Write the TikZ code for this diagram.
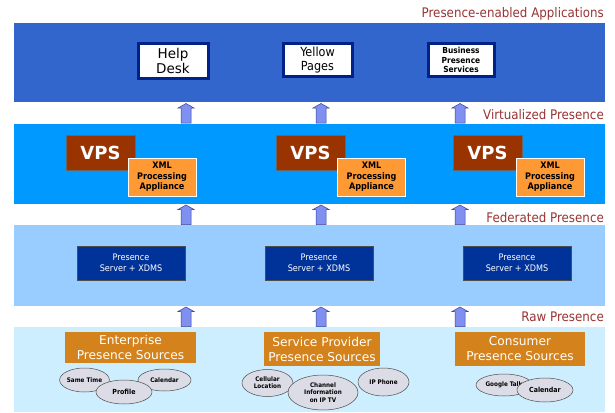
\documentclass[tikz,border=0pt]{standalone}
\usepackage{fontspec}
\setmainfont{DejaVu Sans}
\newfontfamily\condfont{DejaVu Sans Condensed}
\usetikzlibrary{shapes.geometric}

\definecolor{appband}{HTML}{3366CC}
\definecolor{virtband}{HTML}{0099FF}
\definecolor{fedband}{HTML}{99CCFF}
\definecolor{rawband}{HTML}{CCEEFF}
\definecolor{layertext}{HTML}{993333}
\definecolor{appframe}{HTML}{002288}
\definecolor{vpsred}{HTML}{993300}
\definecolor{xmlorange}{HTML}{FF9933}
\definecolor{serverblue}{HTML}{003399}
\definecolor{sourceorange}{HTML}{D4821C}
\definecolor{arrowfill}{HTML}{8090F0}
\definecolor{arrowline}{HTML}{334499}
\definecolor{bubblefill}{HTML}{DCDCE6}

\tikzset{
  layerlabel/.style={anchor=base east, text=layertext, font=\condfont\fontsize{13.2}{13}\selectfont, inner sep=0},
  appbox/.style={draw=appframe, line width=3pt, fill=white, align=center, inner sep=0, text=black},
  vpsbox/.style={fill=vpsred, draw=black!60, line width=0.4pt, text=white, inner sep=0,
    font=\bfseries\fontsize{18}{18}\selectfont},
  xmlbox/.style={fill=xmlorange, draw=white, line width=0.6pt, text=black, align=center, inner sep=0,
    font=\condfont\bfseries\fontsize{9}{10.5}\selectfont},
  serverbox/.style={fill=serverblue, draw=black!70, line width=0.5pt, text=white, align=center, inner sep=0,
    font=\condfont\fontsize{9}{11.5}\selectfont},
  sourcebox/.style={fill=sourceorange, text=white, align=center, inner sep=0,
    font=\fontsize{12.2}{15}\selectfont},
  bubble/.style={ellipse, fill=bubblefill, draw=black!70, line width=0.5pt, inner sep=0, align=center,
    font=\condfont\bfseries\fontsize{6.3}{7.2}\selectfont},
  blockarrow/.style={fill=arrowfill, draw=arrowline, line width=0.5pt, line join=miter},
}

% upward block arrow standing on the named coordinate #1
\newcommand\upblock[1]{%
  \draw[blockarrow] (#1) ++(-5,0) -- ++(0,-15) -- ++(-3,0) -- ++(8,-4.5)
    -- ++(8,4.5) -- ++(-3,0) -- ++(0,15) -- cycle;}

\begin{document}
\begin{tikzpicture}[x=1pt,y=-1pt]
\useasboundingbox (0,0) rectangle (615,412);
\fill[white] (0,0) rectangle (615,412);

% layer bands
\fill[appband]  (14,23)  rectangle (605,102);
\fill[virtband] (14,124) rectangle (605,204);
\fill[fedband]  (14,225) rectangle (605,306);
\fill[rawband]  (14,327) rectangle (605,412);

% layer captions
\node[layerlabel] (lapp)  at (604,18)  {Presence-enabled Applications};
\node[layerlabel] (lvirt) at (604,119) {Virtualized Presence};
\node[layerlabel] (lfed)  at (604,222) {Federated Presence};
\node[layerlabel] (lraw)  at (604,321) {Raw Presence};

% applications
\node[appbox, minimum width=70pt, minimum height=34pt, font=\fontsize{13.5}{15.5}\selectfont] (help) at (173,61) {Help\\Desk};
\node[appbox, minimum width=69pt, minimum height=32pt, font=\condfont\fontsize{12.5}{14}\selectfont] (yellow) at (317.5,60) {Yellow\\Pages};
\node[appbox, minimum width=66pt, minimum height=32pt, font=\condfont\bfseries\fontsize{8.3}{9.3}\selectfont] (business) at (461,60) {Business\\Presence\\Services};

% virtualized presence
\foreach \n/\vx/\xx in {1/100.5/162, 2/310.5/371.5, 3/487.5/550} {
  \node[vpsbox, minimum width=69pt, minimum height=35pt] (vps\n) at (\vx,152.5) {VPS};
  \node[xmlbox, minimum width=68pt, minimum height=38pt] (xml\n) at (\xx,177) {XML\\Processing\\Appliance};
}

% federated presence
\node[serverbox, minimum width=108pt, minimum height=34pt] (ps1) at (131,263) {Presence\\Server + XDMS};
\node[serverbox, minimum width=108pt, minimum height=34pt] (ps2) at (319,263) {Presence\\Server + XDMS};
\node[serverbox, minimum width=108pt, minimum height=34pt] (ps3) at (517,263) {Presence\\Server + XDMS};

% raw presence sources
\node[sourcebox, minimum width=131pt, minimum height=31pt] (ent) at (130.5,347.5) {Enterprise\\Presence Sources};
\node[sourcebox, minimum width=116pt, minimum height=34pt] (sp)  at (322,349) {Service Provider\\Presence Sources};
\node[sourcebox, minimum width=130pt, minimum height=34pt] (con) at (520,349) {Consumer\\Presence Sources};

\node[bubble, minimum width=48pt, minimum height=24pt] (same) at (84.5,380) {Same Time};
\node[bubble, minimum width=53pt, minimum height=22pt] (cal1) at (164.5,380) {Calendar};
\node[bubble, minimum width=56pt, minimum height=24pt, font=\condfont\bfseries\fontsize{7}{8}\selectfont] (prof) at (124,392) {Profile};

\node[bubble, minimum width=51pt, minimum height=27pt] (cell) at (267.5,383) {Cellular\\Location};
\node[bubble, minimum width=51pt, minimum height=28pt] (ipph) at (383.5,382) {IP Phone};
\node[bubble, minimum width=70pt, minimum height=35pt] (iptv) at (323,392.5) {Channel\\Information\\on IP TV};

\node[bubble, minimum width=56pt, minimum height=22pt] (gtalk) at (504,385) {Google Talk};
\node[bubble, minimum width=56pt, minimum height=24pt, font=\condfont\bfseries\fontsize{7}{8}\selectfont] (cal2) at (545,390) {Calendar};

% flow between layers
\foreach \ax [count=\i] in {186,321,460} {
  \coordinate (up\i a) at (\ax,123);
  \coordinate (up\i b) at (\ax,224.5);
  \coordinate (up\i c) at (\ax,326.5);
  \upblock{up\i a}
  \upblock{up\i b}
  \upblock{up\i c}
}
\end{tikzpicture}
\end{document}
